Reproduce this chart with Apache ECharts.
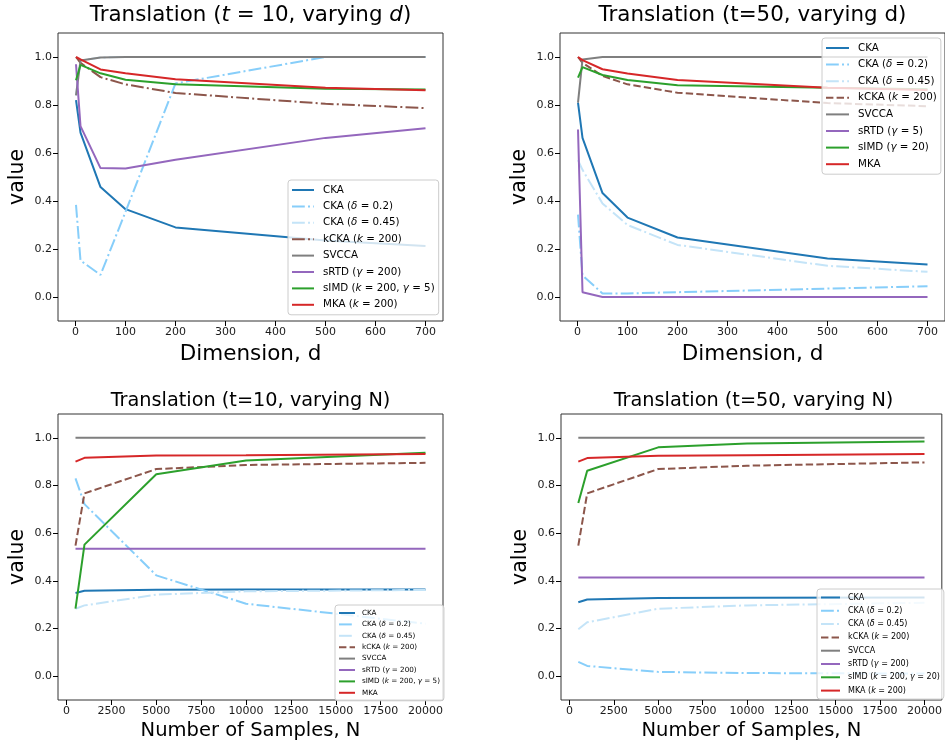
<!DOCTYPE html>
<html><head><meta charset="utf-8">
<script src="https://cdn.jsdelivr.net/npm/echarts@6/dist/echarts.min.js"></script>
<style>html,body{margin:0;padding:0;background:#fff}#c{width:945px;height:742px}</style>
</head><body><div id="c"></div>
<script>
// ---- x values and tick labels ----
const dimD = [1, 10, 50, 100, 200, 500, 700];
const samplesN = [500, 1000, 5000, 10000, 20000];
const dimTicks = [0, 100, 200, 300, 400, 500, 600, 700];
const sampleTicks = [0, 2500, 5000, 7500, 10000, 12500, 15000, 17500, 20000];
const valueTicks = [0.0, 0.2, 0.4, 0.6, 0.8, 1.0];

// ---- Translation (t=10, varying d) ----
const t10d_cka    = [0.82, 0.685, 0.458, 0.366, 0.29, 0.235, 0.212];
const t10d_cka02  = [0.384, 0.152, 0.092, 0.355, 0.89, 1.0, 1.0];
const t10d_cka045 = [0.84, 0.985, 0.998, 1.0, 1.0, 1.0, 1.0];
const t10d_kcka   = [1.0, 0.976, 0.916, 0.886, 0.85, 0.805, 0.787];
const t10d_svcca  = [0.84, 0.985, 0.998, 1.0, 1.0, 1.0, 1.0];
const t10d_srtd   = [0.97, 0.712, 0.537, 0.535, 0.572, 0.663, 0.703];
const t10d_simd   = [0.903, 0.967, 0.932, 0.905, 0.886, 0.868, 0.865];
const t10d_mka    = [1.0, 0.99, 0.948, 0.932, 0.907, 0.872, 0.861];

// ---- Translation (t=50, varying d) ----
const t50d_cka    = [0.81, 0.663, 0.433, 0.331, 0.248, 0.16, 0.135];
const t50d_cka02  = [0.343, 0.09, 0.015, 0.015, 0.02, 0.035, 0.045];
const t50d_cka045 = [0.57, 0.53, 0.39, 0.30, 0.217, 0.13, 0.105];
const t50d_kcka   = [1.0, 0.976, 0.921, 0.886, 0.851, 0.808, 0.795];
const t50d_svcca  = [0.81, 0.99, 1.0, 1.0, 1.0, 1.0, 1.0];
const t50d_srtd   = [0.698, 0.02, 0.0, 0.0, 0.0, 0.0, 0.0];
const t50d_simd   = [0.914, 0.958, 0.925, 0.904, 0.882, 0.872, 0.866];
const t50d_mka    = [1.0, 0.987, 0.949, 0.931, 0.904, 0.872, 0.862];

// ---- Translation (t=10, varying N) ----
const t10n_cka    = [0.349, 0.358, 0.363, 0.364, 0.364];
const t10n_cka02  = [0.83, 0.722, 0.423, 0.304, 0.22];
const t10n_cka045 = [0.283, 0.297, 0.342, 0.356, 0.362];
const t10n_kcka   = [0.548, 0.767, 0.869, 0.886, 0.895];
const t10n_svcca  = [1.0, 1.0, 1.0, 1.0, 1.0];
const t10n_srtd   = [0.535, 0.535, 0.535, 0.535, 0.535];
const t10n_simd   = [0.283, 0.552, 0.847, 0.905, 0.937];
const t10n_mka    = [0.9, 0.916, 0.926, 0.927, 0.932];

// ---- Translation (t=50, varying N) ----
const t50n_cka    = [0.31, 0.322, 0.328, 0.329, 0.33];
const t50n_cka02  = [0.06, 0.043, 0.018, 0.013, 0.011];
const t50n_cka045 = [0.197, 0.226, 0.283, 0.297, 0.308];
const t50n_kcka   = [0.548, 0.767, 0.869, 0.883, 0.897];
const t50n_svcca  = [1.0, 1.0, 1.0, 1.0, 1.0];
const t50n_srtd   = [0.414, 0.414, 0.414, 0.414, 0.414];
const t50n_simd   = [0.727, 0.862, 0.96, 0.976, 0.985];
const t50n_mka    = [0.9, 0.915, 0.925, 0.927, 0.932];

// ---- labels ----
const labels_t10d = ['CKA', 'CKA ({i|δ} = 0.2)', 'CKA ({i|δ} = 0.45)', 'kCKA ({i|k} = 200)', 'SVCCA', 'sRTD ({i|γ} = 200)', 'sIMD ({i|k} = 200, {i|γ} = 5)', 'MKA ({i|k} = 200)'];
const labels_t50d = ['CKA', 'CKA ({i|δ} = 0.2)', 'CKA ({i|δ} = 0.45)', 'kCKA ({i|k} = 200)', 'SVCCA', 'sRTD ({i|γ} = 5)', 'sIMD ({i|γ} = 20)', 'MKA'];
const labels_t10n = ['CKA', 'CKA ({i|δ} = 0.2)', 'CKA ({i|δ} = 0.45)', 'kCKA ({i|k} = 200)', 'SVCCA', 'sRTD ({i|γ} = 200)', 'sIMD ({i|k} = 200, {i|γ} = 5)', 'MKA'];
const labels_t50n = ['CKA', 'CKA ({i|δ} = 0.2)', 'CKA ({i|δ} = 0.45)', 'kCKA ({i|k} = 200)', 'SVCCA', 'sRTD ({i|γ} = 200)', 'sIMD ({i|k} = 200, {i|γ} = 20)', 'MKA ({i|k} = 200)'];
const titles = ['Translation ({i|t} = 10, varying {i|d})', 'Translation (t=50, varying d)', 'Translation (t=10, varying N)', 'Translation (t=50, varying N)'];

const FONT = 'DejaVu Sans';
const colors = ['#1f77b4', '#87cefa', '#c4e4f8', '#8c564b', '#7f7f7f', '#9467bd', '#2ca02c', '#d62728'];
const DASHDOT = [12.8, 3.2, 2, 3.2];
const DASHED = [7.4, 3.2];

const panels = [
  {xs: dimD, data: [t10d_cka, t10d_cka02, t10d_cka045, t10d_kcka, t10d_svcca, t10d_srtd, t10d_simd, t10d_mka], labels: labels_t10d, kstyle: DASHDOT,
   grid: {left: 58, top: 33, width: 385, height: 288}, xmin: -35, xmax: 735, xticks: dimTicks, xname: 'Dimension, d', xgap: 22, nfs: 21.5, tfs: 21.4, ttop: 5,
   legend: {left: 288, top: 180, iw: 22, fs: 10.3, lh: 14, gap: 2.4, tp: 4}},
  {xs: dimD, data: [t50d_cka, t50d_cka02, t50d_cka045, t50d_kcka, t50d_svcca, t50d_srtd, t50d_simd, t50d_mka], labels: labels_t50d, kstyle: DASHED,
   grid: {left: 560, top: 33, width: 387, height: 288}, xmin: -35, xmax: 735, xticks: dimTicks, xname: 'Dimension, d', xgap: 22, nfs: 21.5, tfs: 21.4, ttop: 5,
   legend: {left: 822, top: 38, iw: 23, fs: 10.3, lh: 14, gap: 2.6, tp: 4}},
  {xs: samplesN, data: [t10n_cka, t10n_cka02, t10n_cka045, t10n_kcka, t10n_svcca, t10n_srtd, t10n_simd, t10n_mka], labels: labels_t10n, kstyle: DASHED,
   grid: {left: 58, top: 414, width: 385, height: 288}, xmin: -475, xmax: 20975, xticks: sampleTicks, xname: 'Number of Samples, N', xgap: 21, nfs: 19.5, tfs: 19.3, ttop: 391,
   legend: {left: 335, top: 605, iw: 16, fs: 7.2, lh: 10, gap: 1.4, tp: 2}},
  {xs: samplesN, data: [t50n_cka, t50n_cka02, t50n_cka045, t50n_kcka, t50n_svcca, t50n_srtd, t50n_simd, t50n_mka], labels: labels_t50n, kstyle: DASHED,
   grid: {left: 561, top: 414, width: 386, height: 288}, xmin: -475, xmax: 20975, xticks: sampleTicks, xname: 'Number of Samples, N', xgap: 21, nfs: 19.5, tfs: 19.3, ttop: 391,
   legend: {left: 817, top: 589, iw: 19, fs: 8, lh: 11, gap: 2.3, tp: 3}}
];

const grid = [], xAxis = [], yAxis = [], series = [], legend = [], title = [];
const labelMap = {};
panels.forEach((p, pi) => {
  grid.push(Object.assign({show: true, borderColor: '#333', borderWidth: 1, backgroundColor: 'transparent'}, p.grid));
  xAxis.push({
    type: 'value', gridIndex: pi, min: p.xmin, max: p.xmax,
    name: p.xname, nameLocation: 'middle', nameGap: p.xgap,
    nameTextStyle: {fontFamily: FONT, fontSize: p.nfs, color: '#000'},
    axisLine: {show: false, onZero: false},
    axisTick: {show: true, length: 5, lineStyle: {color: '#000'}, customValues: p.xticks},
    axisLabel: {customValues: p.xticks, formatter: v => String(v), fontFamily: FONT, fontSize: 11, color: '#1a1a1a', margin: 6},
    splitLine: {show: false}
  });
  yAxis.push({
    type: 'value', gridIndex: pi, min: -0.1, max: 1.1,
    name: 'value', nameLocation: 'middle', nameGap: 30,
    nameTextStyle: {fontFamily: FONT, fontSize: 20.5, color: '#000'},
    axisLine: {show: false, onZero: false},
    axisTick: {show: true, length: 5, lineStyle: {color: '#000'}, customValues: valueTicks},
    axisLabel: {customValues: valueTicks, formatter: v => v.toFixed(1), fontFamily: FONT, fontSize: 11, color: '#1a1a1a', margin: 6},
    splitLine: {show: false}
  });
  const names = [];
  p.data.forEach((arr, si) => {
    const nm = 'p' + pi + '_' + si;
    names.push(nm);
    labelMap[nm] = p.labels[si];
    let type = 'solid';
    if (si === 1 || si === 2) type = DASHDOT;
    if (si === 3) type = p.kstyle;
    series.push({
      type: 'line', name: nm, xAxisIndex: pi, yAxisIndex: pi,
      data: p.xs.map((x, k) => [x, arr[k]]),
      symbol: 'none', showSymbol: false, animation: false, clip: true,
      lineStyle: {color: colors[si], width: 2, type: type},
      itemStyle: {color: colors[si]},
      emphasis: {disabled: true}
    });
  });
  const L = p.legend;
  legend.push({
    orient: 'vertical', left: L.left, top: L.top, data: names, selectedMode: false,
    itemWidth: L.iw, itemHeight: Math.max(6, L.lh - 4), itemGap: L.gap,
    padding: [3, 4, 3, 3],
    itemStyle: {color: 'transparent', borderWidth: 0, opacity: 0},
    backgroundColor: 'rgba(255,255,255,0.8)', borderColor: '#cccccc', borderWidth: 1, borderRadius: 3,
    formatter: n => labelMap[n],
    textStyle: {fontFamily: FONT, fontSize: L.fs, color: '#000', lineHeight: L.lh, padding: [0, 0, 0, L.tp],
      rich: {i: {fontFamily: FONT, fontStyle: 'italic', fontSize: L.fs, lineHeight: L.lh, color: '#000'}}}
  });
  title.push({
    text: titles[pi], left: p.grid.left + (pi % 2 === 1 ? 385 : p.grid.width) / 2, top: p.ttop,
    textAlign: 'center', padding: 0,
    textStyle: {fontFamily: FONT, fontSize: p.tfs, fontWeight: 'normal', color: '#000',
      rich: {i: {fontFamily: FONT, fontStyle: 'italic', fontSize: p.tfs, color: '#000'}}}
  });
});

const chart = echarts.init(document.getElementById('c'), null, {renderer: 'canvas'});
chart.setOption({animation: false, backgroundColor: '#fff', title, grid, xAxis, yAxis, series, legend, tooltip: {show: false}});
</script></body></html>
